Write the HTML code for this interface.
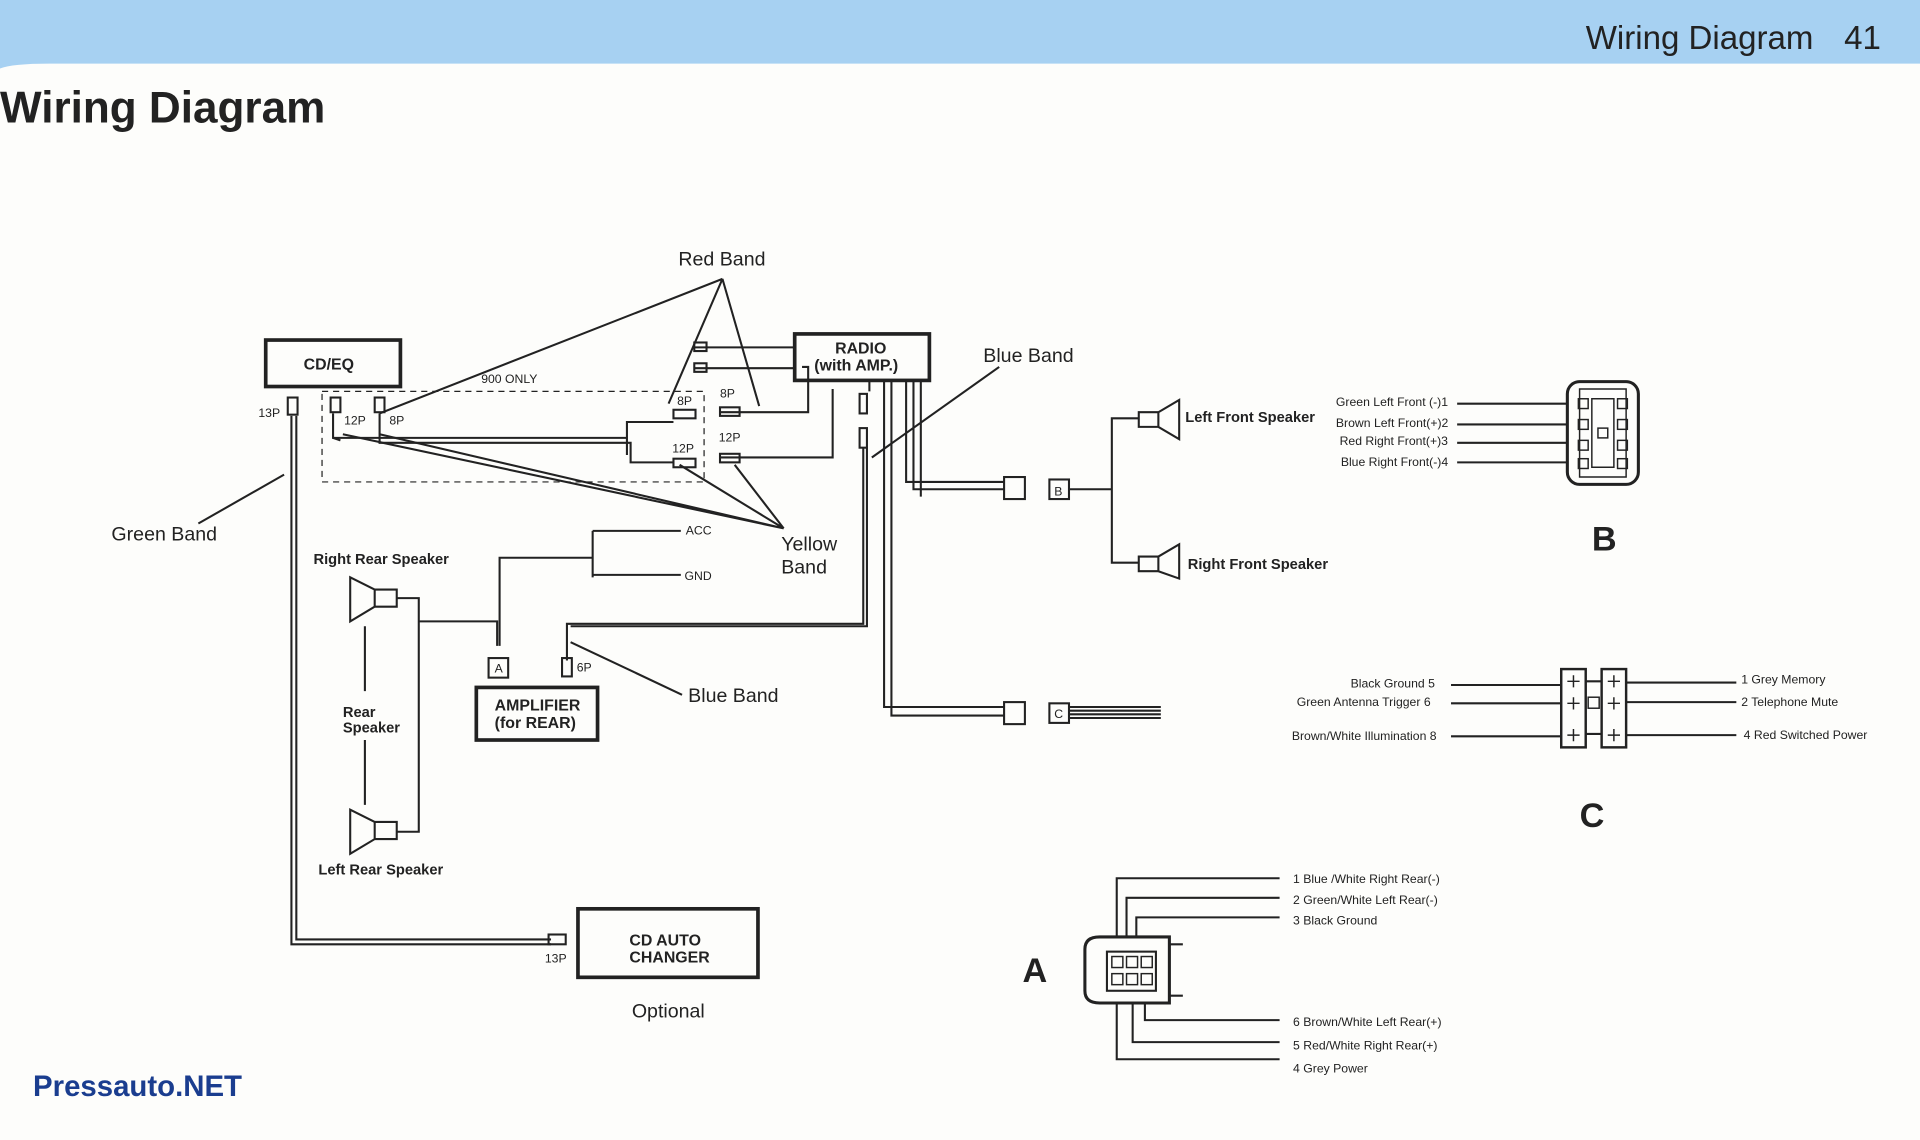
<!DOCTYPE html>
<html><head><meta charset="utf-8"><style>
html,body{margin:0;padding:0;background:#fdfdfb;}
svg{display:block}
text{font-family:"Liberation Sans",sans-serif;fill:#222}
</style></head><body>
<svg width="1920" height="1140" viewBox="0 0 1568 932" preserveAspectRatio="none" xmlns="http://www.w3.org/2000/svg">
<rect width="1568" height="932" fill="#fdfdfb"/>
<path d="M0 0H1568V52H40Q10 52 0 56Z" fill="#a7d1f2"/>
<text x="1295" y="40" font-size="27">Wiring Diagram</text>
<text x="1506" y="40" font-size="27">41</text>
<text x="0" y="100" font-size="36" font-weight="bold" fill="#333">Wiring Diagram</text>
<text x="27" y="896" font-size="24" font-weight="bold" style="fill:#1a3d8f">Pressauto.NET</text>

<g stroke="#222" fill="none" stroke-width="1.7">
<rect x="217" y="278" width="110" height="38" stroke-width="3"/>
<rect x="649" y="273" width="110" height="38" stroke-width="3"/>
<rect x="389" y="562" width="99" height="43" stroke-width="3"/>
<rect x="472" y="743" width="147" height="56" stroke-width="3"/>
<rect x="263" y="320" width="312" height="74" stroke-dasharray="5 4" stroke-width="1"/>
<path d="M590 228L310 338M590 228L546 330M590 228L620 332"/>
<path d="M640 432L280 355M640 432L310 355M640 432L555 380M640 432L600 380"/>
<path d="M272 338V358H512V345H550M310 338V362H515V378H550M272 358L278 360M512 358V372"/>
<path d="M588 337H660V300H655M588 374H680V318"/>
<path d="M567 284H649M567 301H649"/>
<rect x="567" y="280" width="10" height="7"/><rect x="567" y="297" width="10" height="7"/>
<rect x="550" y="335" width="18" height="7"/><rect x="550" y="375" width="18" height="7"/>
<rect x="588" y="333" width="16" height="7"/><rect x="588" y="371" width="16" height="7"/>
<rect x="270" y="325" width="8" height="12"/><rect x="306" y="325" width="8" height="12"/>
<rect x="235" y="325" width="8" height="14"/>
<path d="M238 340V772H450M242 340V768H450"/>
<rect x="448" y="764" width="14" height="8"/>
<path d="M162 428L232 388"/>
<rect x="702" y="322" width="6" height="16"/><rect x="702" y="350" width="6" height="16"/>
<path d="M705 366V510H463V540M708 366V512H466M710 311V320"/>
<path d="M722 311V578H820M728 311V585H820M740 311V394H820M746 311V400H820M752 311V406"/>
<rect x="820" y="390" width="17" height="18"/><rect x="820" y="574" width="17" height="18"/>
<rect x="857" y="392" width="16" height="16"/><rect x="857" y="575" width="16" height="16"/>
<path d="M873 400H908V342H930M908 400V460H930"/>
<path d="M873 578H948M873 581H948M873 584H948M873 587H948"/>
<path d="M712 374L816 300"/>
<path d="M930 337H946V349H930ZM946 337L963 327V359L946 349Z"/>
<path d="M930 455H946V467H930ZM946 455L963 445V473L946 467Z"/>
<path d="M306 482H324V496H306ZM306 482L286 472V508L306 496Z"/>
<path d="M306 672H324V686H306ZM306 672L286 662V698L306 686Z"/>
<path d="M298 512V565M298 605V658" />
<path d="M324 489H342V680H324M342 508H406V528"/>
<rect x="399" y="538" width="16" height="16"/><rect x="459" y="538" width="8" height="15"/>
<path d="M408 528V456H484M484 434V472M484 434H556M484 470H556"/>
<path d="M466 525L557 568"/>
<!-- B connector -->
<rect x="1280" y="312" width="58" height="84" rx="10" stroke-width="2.5"/>
<path d="M1290 318H1328V390H1290Z M1300 326H1318V382H1300Z" stroke-width="1.2"/>
<g stroke-width="1.2"><rect x="1289" y="326" width="8" height="8"/><rect x="1321" y="326" width="8" height="8"/><rect x="1289" y="343" width="8" height="8"/><rect x="1321" y="343" width="8" height="8"/><rect x="1305" y="350" width="8" height="8"/><rect x="1289" y="360" width="8" height="8"/><rect x="1321" y="360" width="8" height="8"/><rect x="1289" y="375" width="8" height="8"/><rect x="1321" y="375" width="8" height="8"/></g>
<path d="M1190 330H1280M1190 347H1280M1190 362H1280M1190 378H1280"/>
<!-- C connector -->
<rect x="1275" y="547" width="20" height="64" stroke-width="2"/><rect x="1308" y="547" width="20" height="64" stroke-width="2"/>
<g stroke-width="1.2"><path d="M1285 552V562M1280 557H1290M1285 570V580M1280 575H1290M1285 596V606M1280 601H1290M1318 552V562M1313 557H1323M1318 570V580M1313 575H1323M1318 596V606M1313 601H1323"/><rect x="1297" y="570" width="9" height="9"/></g>
<path d="M1295 557H1308M1295 600H1308M1185 560H1275M1185 575H1275M1185 602H1275M1328 558H1418M1328 574H1418M1328 601H1418"/>
<!-- A connector -->
<path d="M898 766H955V820H898Q886 820 886 810V776Q886 766 898 766Z" stroke-width="2.5"/>
<rect x="904" y="778" width="40" height="32"/>
<g stroke-width="1.2"><rect x="908" y="782" width="9" height="9"/><rect x="920" y="782" width="9" height="9"/><rect x="932" y="782" width="9" height="9"/><rect x="908" y="796" width="9" height="9"/><rect x="920" y="796" width="9" height="9"/><rect x="932" y="796" width="9" height="9"/></g>
<path d="M955 772H966M955 814H966"/>
<path d="M912 766V718H1045M920 766V734H1045M928 766V750H1045M935 820V834H1045M925 820V852H1045M912 820V866H1045"/>
</g>
<g fill="#222">
<text x="248" y="302" font-size="13" font-weight="bold">CD/EQ</text>
<text x="682" y="289" font-size="13" font-weight="bold">RADIO</text>
<text x="665" y="303" font-size="13" font-weight="bold">(with AMP.)</text>
<text x="404" y="581" font-size="13" font-weight="bold">AMPLIFIER</text>
<text x="404" y="595" font-size="13" font-weight="bold">(for REAR)</text>
<text x="514" y="773" font-size="13" font-weight="bold">CD AUTO</text>
<text x="514" y="787" font-size="13" font-weight="bold">CHANGER</text>
<text x="516" y="832" font-size="16">Optional</text>
<text x="554" y="217" font-size="16">Red Band</text>
<text x="803" y="296" font-size="16">Blue Band</text>
<text x="91" y="442" font-size="16">Green Band</text>
<text x="638" y="450" font-size="16">Yellow</text>
<text x="638" y="469" font-size="16">Band</text>
<text x="562" y="574" font-size="16">Blue Band</text>
<text x="393" y="313" font-size="10">900 ONLY</text>
<text x="211" y="341" font-size="10">13P</text>
<text x="281" y="347" font-size="10">12P</text>
<text x="318" y="347" font-size="10">8P</text>
<text x="553" y="331" font-size="10">8P</text>
<text x="588" y="325" font-size="10">8P</text>
<text x="549" y="370" font-size="10">12P</text>
<text x="587" y="361" font-size="10">12P</text>
<text x="560" y="437" font-size="10">ACC</text>
<text x="559" y="474" font-size="10">GND</text>
<text x="404" y="550" font-size="10">A</text>
<text x="471" y="549" font-size="10">6P</text>
<text x="445" y="787" font-size="10">13P</text>
<text x="861" y="405" font-size="10">B</text>
<text x="861" y="587" font-size="10">C</text>
<text x="256" y="461" font-size="12" font-weight="bold">Right Rear Speaker</text>
<text x="280" y="586" font-size="12" font-weight="bold">Rear</text>
<text x="280" y="599" font-size="12" font-weight="bold">Speaker</text>
<text x="260" y="715" font-size="12" font-weight="bold">Left Rear Speaker</text>
<text x="968" y="345" font-size="12" font-weight="bold">Left Front Speaker</text>
<text x="970" y="465" font-size="12" font-weight="bold">Right Front Speaker</text>
<text x="1091" y="332" font-size="10">Green Left Front (-)1</text>
<text x="1091" y="349" font-size="10">Brown Left Front(+)2</text>
<text x="1094" y="364" font-size="10">Red Right Front(+)3</text>
<text x="1095" y="381" font-size="10">Blue Right Front(-)4</text>
<text x="1300" y="450" font-size="28" font-weight="bold">B</text>
<text x="1290" y="676" font-size="28" font-weight="bold">C</text>
<text x="835" y="803" font-size="28" font-weight="bold">A</text>
<text x="1103" y="562" font-size="10">Black Ground 5</text>
<text x="1059" y="577" font-size="10">Green Antenna Trigger 6</text>
<text x="1055" y="605" font-size="10">Brown/White Illumination 8</text>
<text x="1422" y="559" font-size="10">1 Grey Memory</text>
<text x="1422" y="577" font-size="10">2 Telephone Mute</text>
<text x="1424" y="604" font-size="10">4  Red Switched Power</text>
<text x="1056" y="722" font-size="10">1 Blue /White Right Rear(-)</text>
<text x="1056" y="739" font-size="10">2 Green/White Left Rear(-)</text>
<text x="1056" y="756" font-size="10">3  Black Ground</text>
<text x="1056" y="839" font-size="10">6  Brown/White Left Rear(+)</text>
<text x="1056" y="858" font-size="10">5  Red/White Right Rear(+)</text>
<text x="1056" y="877" font-size="10">4 Grey Power</text>
</g>
</svg>
</body></html>
